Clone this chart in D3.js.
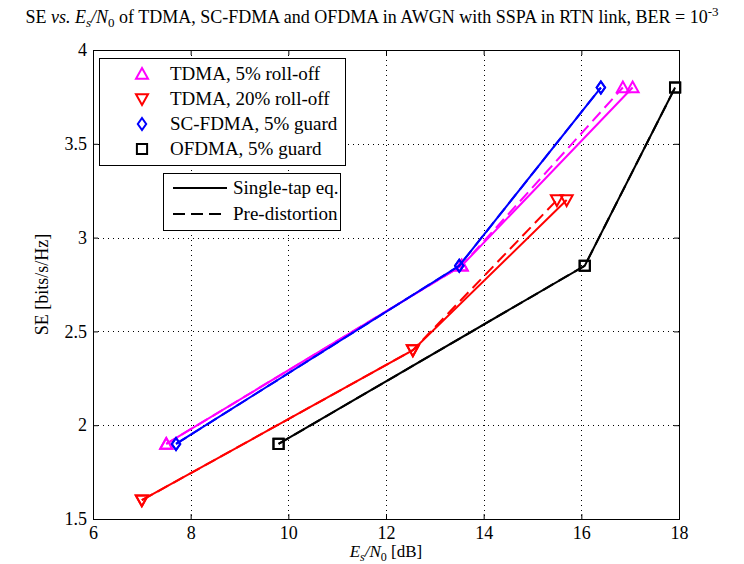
<!DOCTYPE html>
<html>
<head>
<meta charset="utf-8">
<script src="https://cdn.jsdelivr.net/npm/d3@7"></script>
<style>
  body { margin: 0; background: #fff; }
  text { font-family: "Liberation Serif", "Times New Roman", serif; fill: #000; }
</style>
</head>
<body>
<div id="chart"></div>
<script>
const width = 744
const height = 564

// data: Es/N0 [dB] and SE [bits/s/Hz]
const seLevels = [1.9, 2.85, 3.8]
const tdma5Solid = [7.5, 13.55, 17.05]
const tdma5Dashed = [7.5, 13.55, 16.85]
const tdma20Levels = [1.6, 2.4, 3.2]
const tdma20Solid = [7.0, 12.55, 15.7]
const tdma20Dashed = [7.0, 12.55, 15.5]
const scfdmaSolid = [7.7, 13.5, 16.4]
const scfdmaDashed = [7.7, 13.5, 16.4]
const ofdmaSolid = [9.8, 16.07, 17.92]
const ofdmaDashed = [9.8, 16.07, 17.92]

const xTicks = [6, 8, 10, 12, 14, 16, 18]
const yTicks = [1.5, 2, 2.5, 3, 3.5, 4]

const legendNames = ['TDMA, 5% roll-off', 'TDMA, 20% roll-off', 'SC-FDMA, 5% guard', 'OFDMA, 5% guard']
const styleNames = ['Single-tap eq.', 'Pre-distortion']

const series = [
    { name: legendNames[0], color: '#ff00ff', marker: 'up', solid: tdma5Solid, dashed: tdma5Dashed, ys: seLevels },
    { name: legendNames[1], color: '#ff0000', marker: 'down', solid: tdma20Solid, dashed: tdma20Dashed, ys: tdma20Levels },
    { name: legendNames[2], color: '#0000ff', marker: 'diamond', solid: scfdmaSolid, dashed: scfdmaDashed, ys: seLevels },
    { name: legendNames[3], color: '#000000', marker: 'square', solid: ofdmaSolid, dashed: ofdmaDashed, ys: seLevels }
]

const plot = { left: 93, right: 679, top: 50, bottom: 519 }

const x = d3.scaleLinear().domain([6, 18]).range([plot.left, plot.right])
const y = d3.scaleLinear().domain([1.5, 4]).range([plot.bottom, plot.top])

const svg = d3.create('svg')
    .attr('width', width)
    .attr('height', height)
    .attr('viewBox', [0, 0, width, height])

/* title */
const title = svg.append('text')
    .attr('x', 372)
    .attr('y', 23)
    .attr('text-anchor', 'middle')
    .attr('font-size', 18)
title.append('tspan').text('SE ')
title.append('tspan').attr('font-style', 'italic').text('vs. E')
title.append('tspan').attr('font-style', 'italic').attr('font-size', 13).attr('dy', 4).text('s')
title.append('tspan').attr('font-style', 'italic').attr('dy', -4).text('/N')
title.append('tspan').attr('font-size', 13).attr('dy', 4).text('0')
title.append('tspan').attr('dy', -4).text(' of TDMA, SC-FDMA and OFDMA in AWGN with SSPA in RTN link, BER = 10')
title.append('tspan').attr('font-size', 13).attr('dy', -7).text('-3')

/* grid */
const grid = svg.append('g')
    .attr('stroke', '#000')
    .attr('stroke-width', 1)
    .attr('stroke-dasharray', '1,4')
grid.selectAll('.gx')
    .data(xTicks.slice(1, -1))
    .enter().append('line')
    .attr('x1', d => Math.round(x(d)) + 0.5).attr('x2', d => Math.round(x(d)) + 0.5)
    .attr('y1', plot.top).attr('y2', plot.bottom)
grid.selectAll('.gy')
    .data(yTicks.slice(1, -1))
    .enter().append('line')
    .attr('y1', d => Math.round(y(d)) + 0.5).attr('y2', d => Math.round(y(d)) + 0.5)
    .attr('x1', plot.left).attr('x2', plot.right)

/* axes */
svg.append('g')
    .attr('transform', `translate(0,${plot.bottom})`)
    .call(d3.axisBottom(x).tickValues(xTicks).tickSize(-5).tickPadding(7).tickFormat(d3.format('d')))
svg.append('g')
    .attr('transform', `translate(0,${plot.top})`)
    .call(d3.axisTop(x).tickValues(xTicks).tickSize(-5).tickFormat(''))
svg.append('g')
    .attr('transform', `translate(${plot.left},0)`)
    .call(d3.axisLeft(y).tickValues(yTicks).tickSize(-5).tickPadding(6).tickFormat(d => d))
svg.append('g')
    .attr('transform', `translate(${plot.right},0)`)
    .call(d3.axisRight(y).tickValues(yTicks).tickSize(-5).tickFormat(''))

svg.selectAll('.domain').attr('stroke', '#000')
svg.selectAll('.tick line').attr('stroke', '#000')
svg.selectAll('.tick text')
    .attr('font-family', '"Liberation Serif", "Times New Roman", serif')
    .attr('font-size', 18)
    .attr('fill', '#000')

/* axis labels */
const xLabel = svg.append('text')
    .attr('x', x(12))
    .attr('y', 557)
    .attr('text-anchor', 'middle')
    .attr('font-size', 17)
xLabel.append('tspan').attr('font-style', 'italic').text('E')
xLabel.append('tspan').attr('font-style', 'italic').attr('font-size', 12).attr('dy', 4).text('s')
xLabel.append('tspan').attr('font-style', 'italic').attr('dy', -4).text('/N')
xLabel.append('tspan').attr('font-size', 12).attr('dy', 4).text('0')
xLabel.append('tspan').attr('dy', -4).text(' [dB]')

svg.append('text')
    .attr('transform', `translate(48,${y(2.75)}) rotate(-90)`)
    .attr('text-anchor', 'middle')
    .attr('font-size', 18)
    .text('SE [bits/s/Hz]')

/* markers */
const markerPath = (type, s) => {
    const h = s / 2
    if (type === 'up') return `M0,${-h}L${h},${h * 0.8}L${-h},${h * 0.8}Z`
    if (type === 'down') return `M0,${h}L${h},${-h * 0.8}L${-h},${-h * 0.8}Z`
    if (type === 'diamond') return `M0,${-h}L${h * 0.7},0L0,${h}L${-h * 0.7},0Z`
    return `M${-h * 0.85},${-h * 0.85}H${h * 0.85}V${h * 0.85}H${-h * 0.85}Z`
}

const line = d3.line().x(d => x(d[0])).y(d => y(d[1]))
const lines = svg.append('g')

series.forEach(s => {
    const solidPts = s.solid.map((v, i) => [v, s.ys[i]])
    const dashedPts = s.dashed.map((v, i) => [v, s.ys[i]])
    lines.append('path')
        .datum(solidPts)
        .attr('fill', 'none')
        .attr('stroke', s.color)
        .attr('stroke-width', 2)
        .attr('d', line)
    lines.append('path')
        .datum(dashedPts)
        .attr('fill', 'none')
        .attr('stroke', s.color)
        .attr('stroke-width', 2)
        .attr('stroke-dasharray', '12,6')
        .attr('d', line)
    lines.selectAll(null)
        .data(solidPts.concat(dashedPts))
        .enter().append('path')
        .attr('transform', d => `translate(${x(d[0])},${y(d[1])})`)
        .attr('d', markerPath(s.marker, 12))
        .attr('fill', 'none')
        .attr('stroke', s.color)
        .attr('stroke-width', 2)
})

/* legend: series */
const legend = svg.append('g')
legend.append('rect')
    .attr('x', 99.5).attr('y', 58.5)
    .attr('width', 246).attr('height', 107)
    .attr('fill', '#fff').attr('stroke', '#000')
series.forEach((s, i) => {
    const cy = 74 + i * 25
    legend.append('path')
        .attr('transform', `translate(142,${cy})`)
        .attr('d', markerPath(s.marker, 12))
        .attr('fill', 'none')
        .attr('stroke', s.color)
        .attr('stroke-width', 2)
    legend.append('text')
        .attr('x', 170)
        .attr('y', cy + 6)
        .attr('font-size', 19)
        .text(s.name)
})

/* legend: line styles */
const legend2 = svg.append('g')
legend2.append('rect')
    .attr('x', 163.5).attr('y', 173.5)
    .attr('width', 177).attr('height', 57)
    .attr('fill', '#fff').attr('stroke', '#000')
styleNames.forEach((name, i) => {
    const cy = 188 + i * 26
    legend2.append('line')
        .attr('x1', 173).attr('x2', 227)
        .attr('y1', cy).attr('y2', cy)
        .attr('stroke', '#000')
        .attr('stroke-width', 2)
        .attr('stroke-dasharray', i ? '12,6' : null)
    legend2.append('text')
        .attr('x', 233)
        .attr('y', cy + 6)
        .attr('font-size', 19)
        .text(name)
})

document.getElementById('chart').appendChild(svg.node())
</script>
</body>
</html>
